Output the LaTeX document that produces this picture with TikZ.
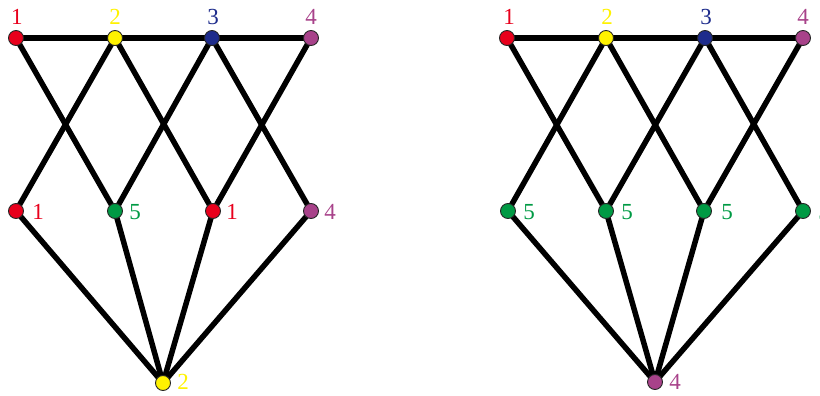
\documentclass[tikz,border=0pt]{standalone}
\usepackage{fontspec}
\setmainfont{Liberation Serif}
\usetikzlibrary{backgrounds}
\definecolor{cred}{HTML}{E8001C}
\definecolor{cyel}{HTML}{FFF200}
\definecolor{cblue}{HTML}{1E2C8C}
\definecolor{cmag}{HTML}{A8428A}
\definecolor{cgreen}{HTML}{009A44}
\tikzset{
  vtx/.style={circle,draw=black!85,line width=0.9pt,minimum size=15pt,inner sep=0pt},
  edge/.style={line width=5.5pt,black},
  lab/.style={font=\fontsize{23}{23}\selectfont,inner sep=0pt}
}
\begin{document}
\begin{tikzpicture}[x=1pt,y=-1pt]
\useasboundingbox (0,0) rectangle (820,396);
% ---- left graph ----
\foreach \n/\x/\c in {a1/16/cred,a2/115/cyel,a3/212/cblue,a4/311/cmag}
  \node[vtx,fill=\c] (\n) at (\x,38) {};
\foreach \n/\x/\c in {b1/16/cred,b2/115/cgreen,b3/213/cred,b4/311/cmag}
  \node[vtx,fill=\c] (\n) at (\x,211) {};
\node[vtx,fill=cyel] (c) at (163,383) {};
% ---- right graph ----
\foreach \n/\x/\c in {p1/507/cred,p2/606/cyel,p3/705/cblue,p4/803/cmag}
  \node[vtx,fill=\c] (\n) at (\x,38) {};
\foreach \n/\x in {q1/508,q2/606,q3/704,q4/803}
  \node[vtx,fill=cgreen] (\n) at (\x,211) {};
\node[vtx,fill=cmag] (r) at (655,382) {};
% ---- edges ----
\begin{scope}[on background layer]
\foreach \u/\v in {a1/a2,a2/a3,a3/a4,a1/b2,a2/b1,a2/b3,a3/b2,a3/b4,a4/b3,b1/c,b2/c,b3/c,b4/c,
                   p1/p2,p2/p3,p3/p4,p1/q2,p2/q1,p2/q3,p3/q2,p3/q4,p4/q3,q1/r,q2/r,q3/r,q4/r}
  \draw[edge] (\u.center) -- (\v.center);
\end{scope}
% ---- labels ----
\node[lab,text=cred]  (la1) at (17,17) {1};
\node[lab,text=cyel]  (la2) at (115,17) {2};
\node[lab,text=cblue] (la3) at (213,17) {3};
\node[lab,text=cmag]  (la4) at (311,17) {4};
\node[lab,text=cred]  (lb1) at (38,212) {1};
\node[lab,text=cgreen](lb2) at (135,212) {5};
\node[lab,text=cred]  (lb3) at (232,212) {1};
\node[lab,text=cmag]  (lb4) at (330,212) {4};
\node[lab,text=cyel]  (lc)  at (183,382) {2};
\node[lab,text=cred]  (lp1) at (509,17) {1};
\node[lab,text=cyel]  (lp2) at (607,17) {2};
\node[lab,text=cblue] (lp3) at (706,17) {3};
\node[lab,text=cmag]  (lp4) at (803,17) {4};
\node[lab,text=cgreen](lq1) at (529,212) {5};
\node[lab,text=cgreen](lq2) at (627,212) {5};
\node[lab,text=cgreen](lq3) at (727,212) {5};
\node[lab,text=cgreen](lq4) at (824,212) {5};
\node[lab,text=cmag]  (lr)  at (675,382) {4};
\end{tikzpicture}
\end{document}
